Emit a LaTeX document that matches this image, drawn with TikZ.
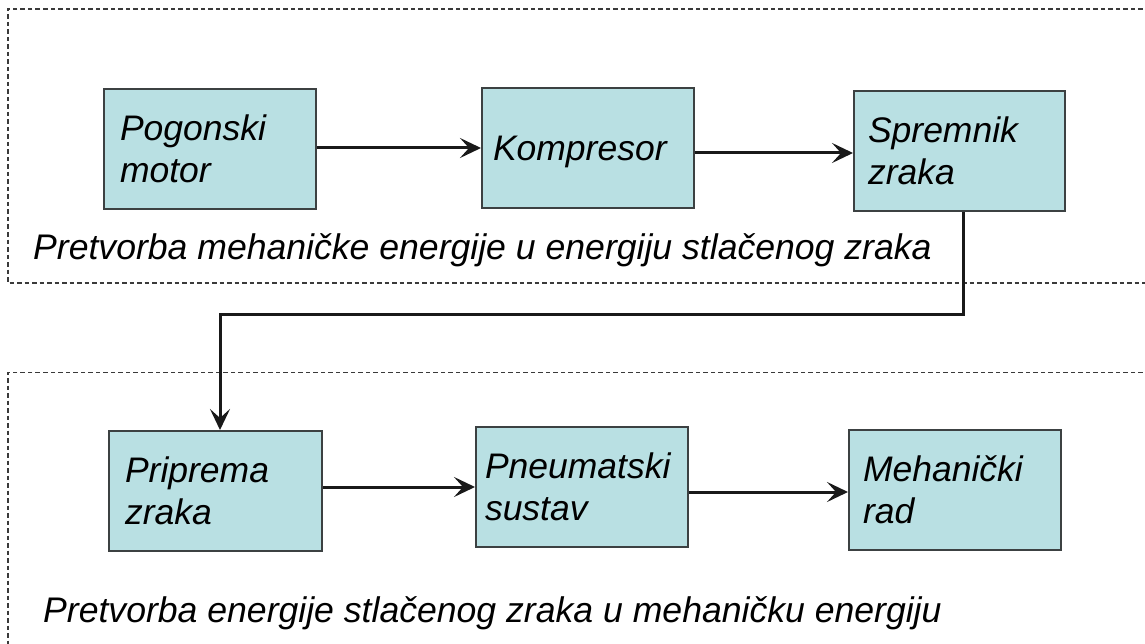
\documentclass[tikz,border=0pt]{standalone}
\usepackage{fontspec}
\setmainfont{Liberation Sans}
\usetikzlibrary{arrows.meta}
\definecolor{boxfill}{HTML}{B9E0E3}
\definecolor{boxline}{HTML}{3C4142}
\definecolor{dashline}{HTML}{3A3A3A}
\tikzset{
  blockbox/.style={draw=boxline, line width=2pt, fill=boxfill, inner sep=0pt,
    minimum height=120pt, align=left, anchor=center,
    font=\fontsize{35.5}{42}\selectfont\itshape},
  frame/.style={draw=dashline, line width=1.2pt, dash pattern=on 4.5pt off 3pt},
  flow/.style={draw=black!90, line width=3pt, -{Stealth[length=21pt,width=20pt,inset=9pt]}},
  caption/.style={anchor=base west, inner sep=0pt, font=\fontsize{35.6}{42}\selectfont\itshape}
}
\begin{document}
\begin{tikzpicture}[x=1pt,y=-1pt]
\useasboundingbox (0,0) rectangle (1145,644);
\fill[white] (0,0) rectangle (1145,644);
% dashed frames
\draw[frame] (1150,9) -- (8,9) -- (8,283) -- (1150,283);
\draw[frame] (1150,372.5) -- (8,372.5) -- (8,650);
% blocks
\node[blockbox, minimum width=212pt, text width=180pt] (pog) at (210,149) {Pogonski\\motor};
\node[blockbox, minimum width=212pt, text width=190pt, text depth=0pt] (kom) at (588,148) {Kompresor};
\node[blockbox, minimum width=211pt, text width=183pt] (spr) at (959.5,151) {Spremnik\\zraka};
\node[blockbox, minimum width=213pt, text width=181pt] (pri) at (215.5,491) {Priprema\\zraka};
\node[blockbox, minimum width=212pt, text width=194pt] (pne) at (582,487) {Pneumatski\\sustav};
\node[blockbox, minimum width=212pt, text width=184pt] (meh) at (955,490) {Mehanički\\rad};
% captions
\node[caption] (cap1) at (33,260) {Pretvorba mehaničke energije u energiju stlačenog zraka};
\node[caption] (cap2) at (43,622) {Pretvorba energije stlačenog zraka u mehaničku energiju};
% connectors
\coordinate (turn) at (963,314);
\draw[flow] ([yshift=1pt]pog.east) -- ([yshift=1pt]pog.east -| kom.west);
\draw[flow] ([yshift=-5pt]kom.east) -- ([yshift=-5pt]kom.east -| spr.west);
\draw[flow] ([yshift=4pt]pri.east) -- ([yshift=4pt]pri.east -| pne.west);
\draw[flow] ([yshift=-5pt]pne.east) -- ([yshift=-5pt]pne.east -| meh.west);
\draw[flow] (spr.south -| turn) -- (turn) -| ([xshift=4.5pt]pri.north);
\end{tikzpicture}
\end{document}
